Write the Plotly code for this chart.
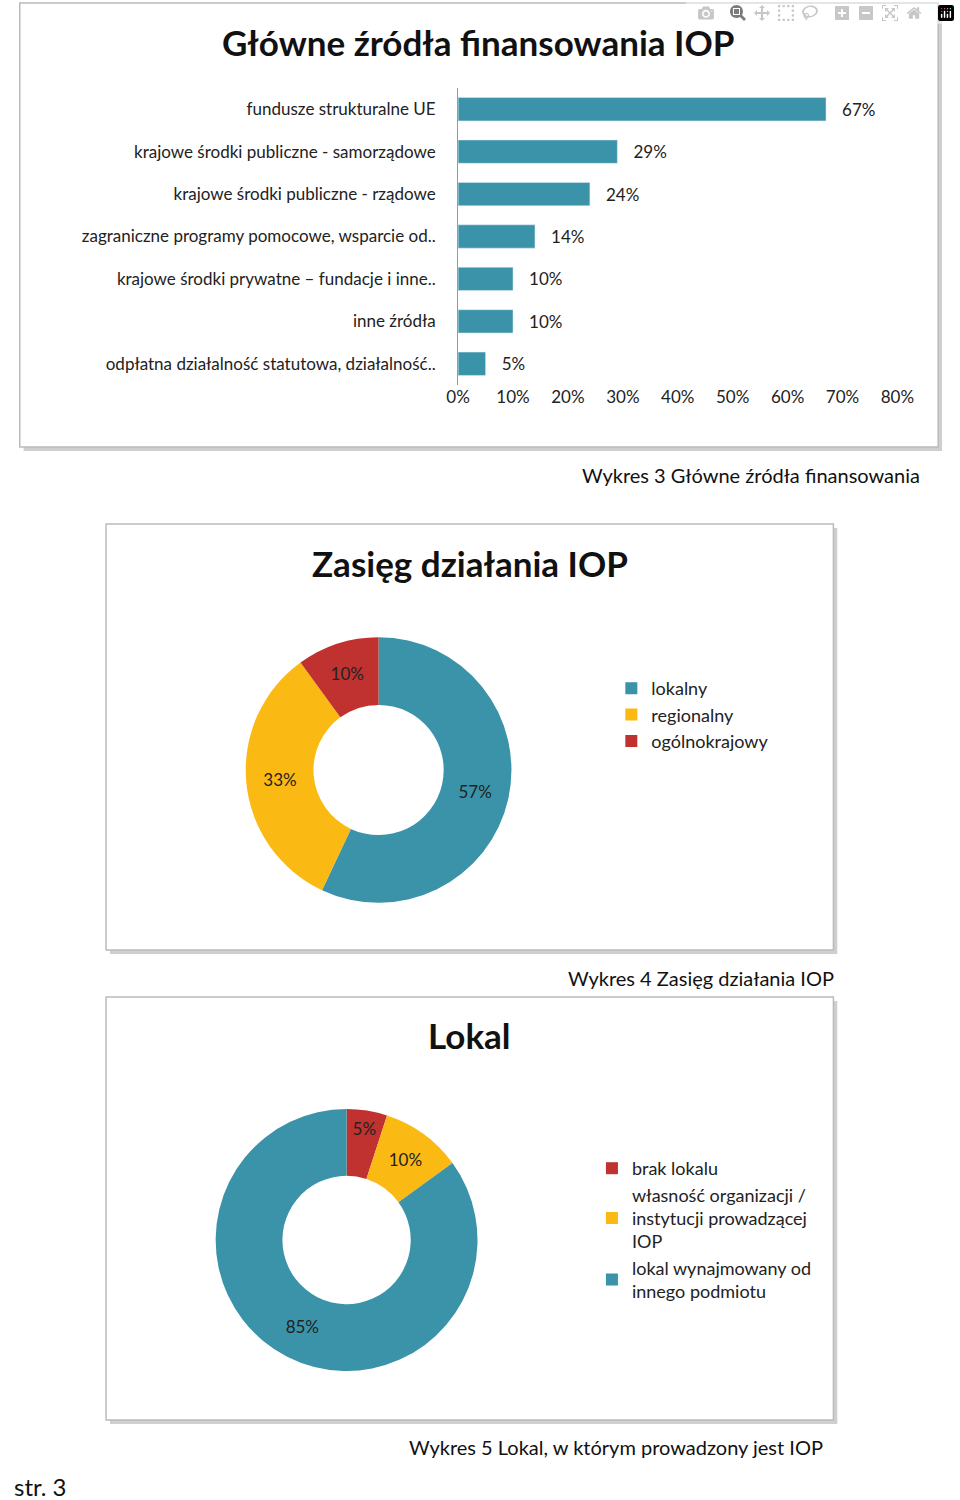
import plotly.graph_objects as go

W, H = 960, 1500
def px(x): return x / W
def py(y): return 1 - y / H

teal, yellow, red = "#3A93A8", "#FBB913", "#C0322F"
FONT = "Lato"

# Chart 1 data
fund_cats = ["fundusze strukturalne UE", "krajowe środki publiczne - samorządowe",
             "krajowe środki publiczne - rządowe", "zagraniczne programy pomocowe, wsparcie od..",
             "krajowe środki prywatne – fundacje i inne..", "inne źródła",
             "odpłatna działalność statutowa, działalność.."]
fund_vals = [67, 29, 24, 14, 10, 10, 5]
x_ticks = [0, 10, 20, 30, 40, 50, 60, 70, 80]
x_tick_labels = ["0%", "10%", "20%", "30%", "40%", "50%", "60%", "70%", "80%"]

# Chart 2 data
zas_labels = ["lokalny", "regionalny", "ogólnokrajowy"]
zas_vals = [57, 33, 10]

# Chart 3 data
lok_labels = ["brak lokalu", "własność organizacji /<br>instytucji prowadzącej<br>IOP",
              "lokal wynajmowany od<br>innego podmiotu"]
lok_vals = [5, 10, 85]

fig = go.Figure()
fig.add_trace(go.Bar(
    y=fund_cats, x=fund_vals, orientation="h", marker_color=teal, width=0.55,
    text=[f"   {v}%" for v in fund_vals], textposition="outside", cliponaxis=False,
    textfont=dict(size=17, color="#222"), showlegend=False, xaxis="x", yaxis="y"))

fig.add_trace(go.Pie(
    labels=zas_labels, values=zas_vals, hole=0.49, sort=False, direction="clockwise",
    rotation=0, marker=dict(colors=[teal, yellow, red]),
    texttemplate="%{value}%", textposition="inside", insidetextorientation="horizontal",
    textfont=dict(size=17, color="#222"),
    domain=dict(x=[px(241), px(515)], y=[py(907), py(633)]), legend="legend"))

fig.add_trace(go.Pie(
    labels=lok_labels, values=lok_vals, hole=0.49, sort=False, direction="clockwise",
    rotation=0, marker=dict(colors=[red, yellow, teal]),
    texttemplate="%{value}%", textposition="inside", insidetextorientation="horizontal",
    textfont=dict(size=17, color="#222"),
    domain=dict(x=[px(210), px(480)], y=[py(1375), py(1105)]), legend="legend2"))

shapes = []
for (x0, y0, x1, y1) in [(8, 3, 955, 447), (97, 524, 847, 950), (97, 997, 847, 1420)]:
    shapes.append(dict(type="rect", xref="paper", yref="paper", x0=px(x0 + 4), x1=px(x1 + 4),
                       y0=py(y1 + 4), y1=py(y0 + 4), line=dict(width=0), fillcolor="#cfcfcf", layer="below"))
    shapes.append(dict(type="rect", xref="paper", yref="paper", x0=px(x0), x1=px(x1),
                       y0=py(y1), y1=py(y0), line=dict(color="#bbbbbb", width=1.5), fillcolor="white", layer="below"))

ann = []
def text(x, y, t, size, anchor="center", bold=False):
    ann.append(dict(xref="paper", yref="paper", x=px(x), y=py(y), text=f"<b>{t}</b>" if bold else t,
                    showarrow=False, xanchor=anchor, yanchor="middle", font=dict(size=size, color="#111")))
text(481, 42, "Główne źródła finansowania IOP", 35, bold=True)
text(938, 475, "Wykres 3 Główne źródła finansowania", 20, "right")
text(472, 563, "Zasięg działania IOP", 35, bold=True)
text(850, 978, "Wykres 4 Zasięg działania IOP", 20, "right")
text(472, 1035, "Lokal", 35, bold=True)
text(838, 1447, "Wykres 5 Lokal, w którym prowadzony jest IOP", 20, "right")
text(0, 1486, "str. 3", 24, "left")

fig.update_layout(
    width=W, height=H, margin=dict(l=0, r=0, t=0, b=0),
    paper_bgcolor="white", plot_bgcolor="white",
    font=dict(family=FONT, size=17, color="#222"),
    shapes=shapes, annotations=ann,
    xaxis=dict(domain=[px(460), px(913)], range=[0, 80], tickvals=x_ticks, ticktext=x_tick_labels,
               showgrid=False, zeroline=False, showline=False, anchor="y",
               tickfont=dict(size=17)),
    yaxis=dict(domain=[py(385), py(88)], autorange="reversed", showline=True,
               linecolor="#999", ticks="", ticklabelstandoff=18, tickfont=dict(size=17)),
    legend=dict(x=px(618), y=py(670), xanchor="left", yanchor="top", font=dict(size=18),
                itemsizing="constant"),
    legend2=dict(x=px(598), y=py(1150), xanchor="left", yanchor="top", font=dict(size=18),
                 itemsizing="constant", tracegroupgap=20),
)
fig.write_html("out.html")
with open("out.html", encoding="utf-8") as f:
    html = f.read()
html = html.replace("<head>", "<head><style>html,body{margin:0;padding:0;overflow:hidden}</style>", 1)
with open("out.html", "w", encoding="utf-8") as f:
    f.write(html)
